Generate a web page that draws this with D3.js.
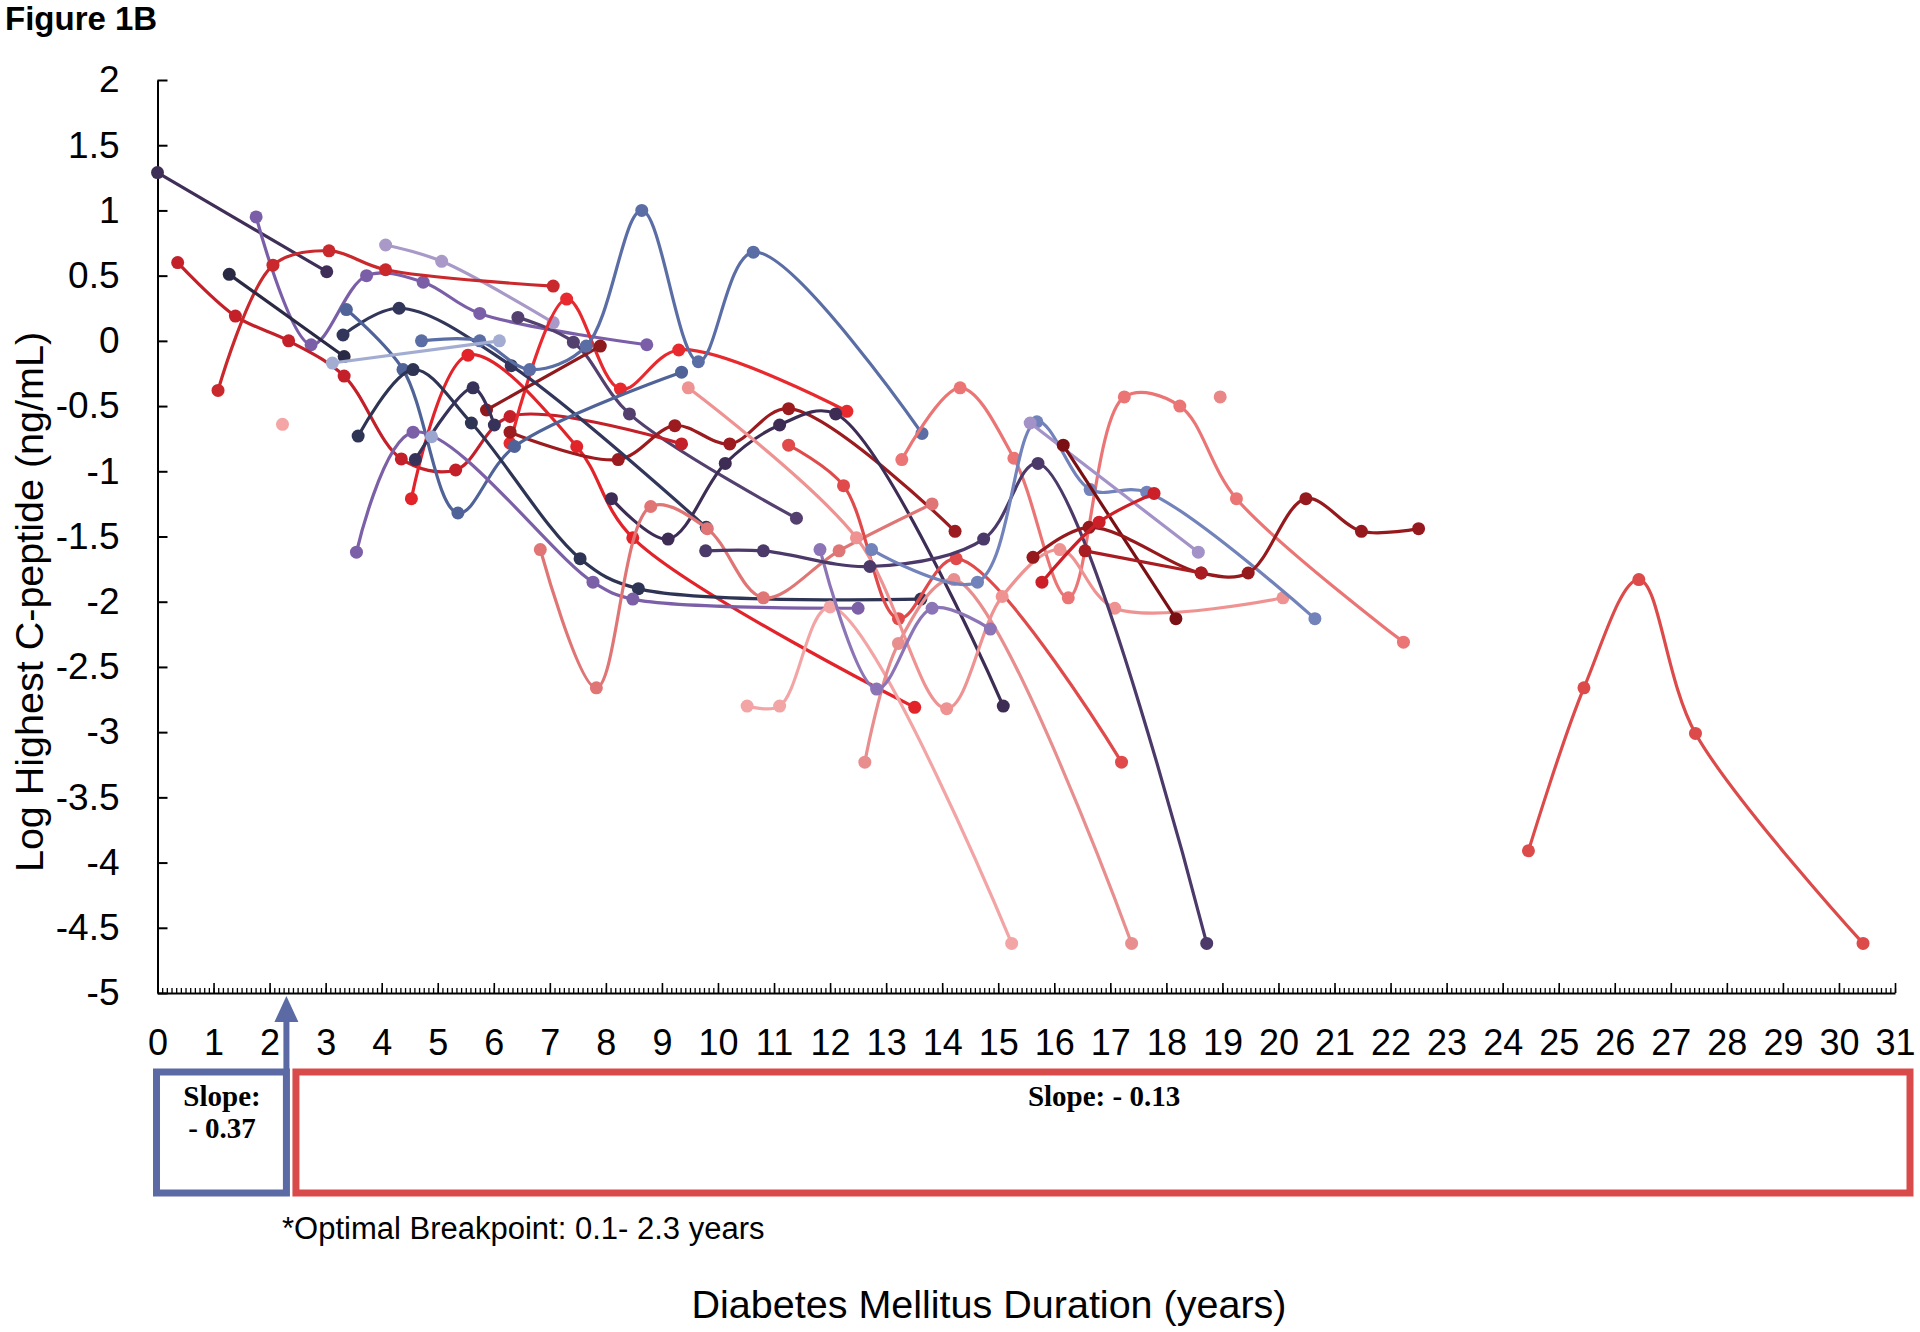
<!DOCTYPE html>
<html><head><meta charset="utf-8">
<script src="https://cdn.jsdelivr.net/npm/d3@7"></script>
<style>
body{margin:0;background:#fff}
svg{display:block}
</style>
</head><body>
<svg id="chart" width="1920" height="1332"></svg>
<script>
// ---------------- data ----------------
const xTickValues = d3.range(0, 32);
const yTickValues = [2, 1.5, 1, 0.5, 0, -0.5, -1, -1.5, -2, -2.5, -3, -3.5, -4, -4.5, -5];

const s01 = [[0,1.29],[3.02,0.53]];
const s02 = [[1.76,0.95],[2.74,-0.03],[3.73,0.50],[4.74,0.45],[5.75,0.21],[8.73,-0.03]];
const s03 = [[6.43,0.18],[7.42,-0.01],[8.42,-0.56],[11.4,-1.36]];
const s04 = [[4.07,0.735],[5.07,0.61],[7.06,0.14]];
const s05 = [[0.36,0.60],[1.39,0.19],[2.34,0.0],[3.33,-0.27],[4.35,-0.905],[5.32,-0.99],[6.29,-0.58],[9.35,-0.79]];
const s06 = [[1.08,-0.38],[2.06,0.58],[3.06,0.69],[4.07,0.545],[7.06,0.42]];
const s07 = [[4.53,-1.21],[5.54,-0.11],[7.48,-0.81],[8.48,-1.51],[13.51,-2.81]];
const s08 = [[6.29,-0.785],[7.3,0.32],[8.26,-0.37],[9.3,-0.07],[12.3,-0.54]];
const s09 = [[5.87,-0.53],[7.9,-0.04]];
const s10 = [[6.29,-0.70],[8.22,-0.91],[9.23,-0.65],[10.21,-0.79],[11.26,-0.52],[14.23,-1.46]];
const s11 = [[1.28,0.51],[3.33,-0.12]];
const s12 = [[3.31,0.045],[4.31,0.25],[6.31,-0.19],[9.79,-1.43]];
const s13 = [[8.1,-1.21],[9.11,-1.52],[10.13,-0.94],[11.1,-0.645],[12.1,-0.56],[15.09,-2.8]];
const s14 = [[3.37,0.24],[4.38,-0.22],[5.36,-1.32],[6.37,-0.81],[9.35,-0.24]];
const s15 = [[3.58,-0.73],[4.56,-0.22],[5.6,-0.63],[7.54,-1.67],[8.58,-1.90],[13.62,-1.98]];
const s16 = [[4.71,0.0],[5.75,0.0],[6.64,-0.22],[7.65,-0.04],[8.64,1.0],[9.65,-0.16],[10.63,0.68],[13.64,-0.71]];
const s17 = [[3.12,-0.17],[6.1,0.0]];
const s18 = [[3.55,-1.62],[4.56,-0.70],[7.77,-1.85],[8.48,-1.98],[12.5,-2.05]];
const s19 = [[6.83,-1.60],[7.83,-2.66],[8.8,-1.27],[9.81,-1.44],[10.81,-1.97],[12.16,-1.61],[13.82,-1.25]];
const s20 = [[10.52,-2.8],[11.1,-2.8],[12.0,-2.04],[15.24,-4.62]];
const s21 = [[13.28,-0.91],[14.32,-0.36],[15.28,-0.90],[16.25,-1.97],[17.25,-0.43],[18.24,-0.50],[19.25,-1.21],[22.23,-2.31]];
const s22 = [[11.26,-0.80],[12.24,-1.11],[13.22,-2.13],[14.25,-1.67],[17.2,-3.23]];
const s23 = [[12.62,-3.23],[13.22,-2.32],[14.21,-1.83],[17.38,-4.62]];
const s24 = [[9.47,-0.36],[12.47,-1.51],[14.08,-2.82],[15.07,-1.96],[16.1,-1.60],[17.08,-2.05],[20.08,-1.97]];
const s25 = [[11.82,-1.60],[12.83,-2.67],[13.82,-2.05],[14.86,-2.21]];
const s26 = [[9.78,-1.61],[10.81,-1.61],[12.71,-1.73],[14.74,-1.52],[15.71,-0.94],[18.72,-4.62]];
const s27 = [[12.74,-1.60],[14.63,-1.85],[15.69,-0.62],[16.64,-1.14],[17.65,-1.16],[20.65,-2.13]];
const s28 = [[15.57,-0.63],[18.57,-1.62]];
const s29 = [[16.16,-0.80],[18.17,-2.13]];
const s30 = [[15.62,-1.66],[16.62,-1.43],[18.62,-1.78],[19.46,-1.78],[20.49,-1.21],[21.48,-1.46],[22.5,-1.44]];
const s31 = [[16.55,-1.61],[18.62,-1.78]];
const s32 = [[15.78,-1.85],[16.8,-1.39],[17.78,-1.17]];
const s33 = [[4.6,-0.91],[5.63,-0.36],[6.01,-0.645]];
const s34 = [[24.46,-3.91],[25.45,-2.66],[26.43,-1.83],[27.44,-3.01],[30.43,-4.62]];
const s35 = [[2.23,-0.64]];
const s36 = [[18.96,-0.43]];
const s37 = [[4.89,-0.735]];

const seriesData = [s01,s02,s03,s04,s05,s06,s07,s08,s09,s10,s11,s12,s13,s14,s15,s16,s17,s18,s19,s20,
                    s21,s22,s23,s24,s25,s26,s27,s28,s29,s30,s31,s32,s33,s34,s35,s36,s37];
const seriesColors = ["#3f2f58","#7b5ea8","#54406f","#a899c8","#c4202a","#c9282c","#e3232a","#e8292e","#8e1a1e","#9b1b1f",
                      "#2b2a45","#31365a","#3d2d55","#4f6399","#2e3453","#5a6da5","#a3add2","#7b5fa7","#e07575","#f3a5a5",
                      "#eb7575","#e14a4a","#e88e8e","#ef9292","#8b75b6","#4b3969","#7282ba","#a392c8","#7a1014","#961a1d",
                      "#a81c22","#cc1f27","#36325a","#dc4a4a","#f4a5a5","#e98686","#9aa6d0"];

// ---------------- chart ----------------
const sans = "'Liberation Sans', Arial, sans-serif";
const serif = "'Liberation Serif', 'Times New Roman', serif";
const svg = d3.select("#chart").style("font-family", sans);
const x = d3.scaleLinear().domain([0, 31]).range([157.5, 1895]);
const y = d3.scaleLinear().domain([-5, 2]).range([993, 80]);

// y axis
const yAxis = svg.append("g").attr("transform", `translate(${x(0)},0)`)
  .call(d3.axisLeft(y).tickValues(yTickValues).tickSize(-10).tickSizeOuter(0).tickPadding(38)
        .tickFormat(d => String(d)));
yAxis.attr("font-family", null).attr("font-size", null);
yAxis.select(".domain").attr("stroke", "#000").attr("stroke-width", 2);
yAxis.selectAll(".tick line").attr("stroke", "#000").attr("stroke-width", 2);
yAxis.selectAll(".tick text").style("font-size", "37px").style("font-family", sans).attr("fill", "#000");

// x axis minor ticks
const xMinor = svg.append("g").attr("transform", `translate(0,${y(-5)})`)
  .call(d3.axisBottom(x).tickValues(d3.range(0, 31 * 12 + 1).map(i => i / 12)).tickSize(-5).tickSizeOuter(0).tickFormat(""));
xMinor.select(".domain").remove();
xMinor.selectAll(".tick line").attr("stroke", "#000").attr("stroke-width", 1.3);

// x axis major
const xAxis = svg.append("g").attr("transform", `translate(0,${y(-5)})`)
  .call(d3.axisBottom(x).tickValues(xTickValues).tickSize(-10).tickSizeOuter(0).tickPadding(0));
xAxis.attr("font-family", null).attr("font-size", null);
xAxis.select(".domain").attr("stroke", "#000").attr("stroke-width", 2);
xAxis.selectAll(".tick line").attr("stroke", "#000").attr("stroke-width", 1.6);
xAxis.selectAll(".tick text").style("font-size", "36px").style("font-family", sans)
  .attr("dy", null).attr("y", 62).attr("fill", "#000");

// series
const line = d3.line().x(d => x(d[0])).y(d => y(d[1])).curve(d3.curveCatmullRom.alpha(0.5));
const plot = svg.append("g");
seriesData.forEach((s, i) => {
  const g = plot.append("g");
  if (s.length > 1) {
    g.append("path").attr("d", line(s)).attr("fill", "none")
      .attr("stroke", seriesColors[i]).attr("stroke-width", 3.2).attr("stroke-linejoin", "round");
  }
  g.selectAll("circle").data(s).join("circle")
    .attr("cx", d => x(d[0])).attr("cy", d => y(d[1])).attr("r", 6.5)
    .attr("fill", seriesColors[i]);
});

// title
svg.append("text").attr("x", 5).attr("y", 30).style("font-size", "33px").style("font-weight", "bold").text("Figure 1B");

// y title
svg.append("text").attr("transform", "translate(43,602) rotate(-90)").attr("text-anchor", "middle")
  .style("font-size", "39.5px").text("Log Highest C-peptide (ng/mL)");

// breakpoint arrow
const blue = "#5b6aa5", red = "#d94a4a";
const bx = x(2.3);
svg.append("line").attr("x1", bx).attr("x2", bx).attr("y1", 1018).attr("y2", 1196)
  .attr("stroke", blue).attr("stroke-width", 6);
svg.append("path").attr("d", `M${bx},996 L${bx - 12},1022 L${bx + 12},1022 Z`).attr("fill", blue);

// boxes
svg.append("rect").attr("x", x(0) - 1).attr("y", 1072).attr("width", bx - x(0) + 1).attr("height", 121)
  .attr("fill", "none").attr("stroke", blue).attr("stroke-width", 7);
svg.append("rect").attr("x", x(2.47)).attr("y", 1072).attr("width", 1910 - x(2.47)).attr("height", 121)
  .attr("fill", "none").attr("stroke", red).attr("stroke-width", 7);

svg.append("text").attr("x", 222).attr("y", 1106).attr("text-anchor", "middle")
  .style("font-family", serif).style("font-weight", "bold").style("font-size", "29px").text("Slope:");
svg.append("text").attr("x", 222).attr("y", 1138).attr("text-anchor", "middle")
  .style("font-family", serif).style("font-weight", "bold").style("font-size", "29px").text("- 0.37");
svg.append("text").attr("x", 1104).attr("y", 1106).attr("text-anchor", "middle")
  .style("font-family", serif).style("font-weight", "bold").style("font-size", "29px").text("Slope: - 0.13");

svg.append("text").attr("x", 282).attr("y", 1239).style("font-size", "31px")
  .text("*Optimal Breakpoint: 0.1- 2.3 years");
svg.append("text").attr("x", 989).attr("y", 1318).attr("text-anchor", "middle").style("font-size", "39.5px")
  .text("Diabetes Mellitus Duration (years)");
</script>
</body></html>
